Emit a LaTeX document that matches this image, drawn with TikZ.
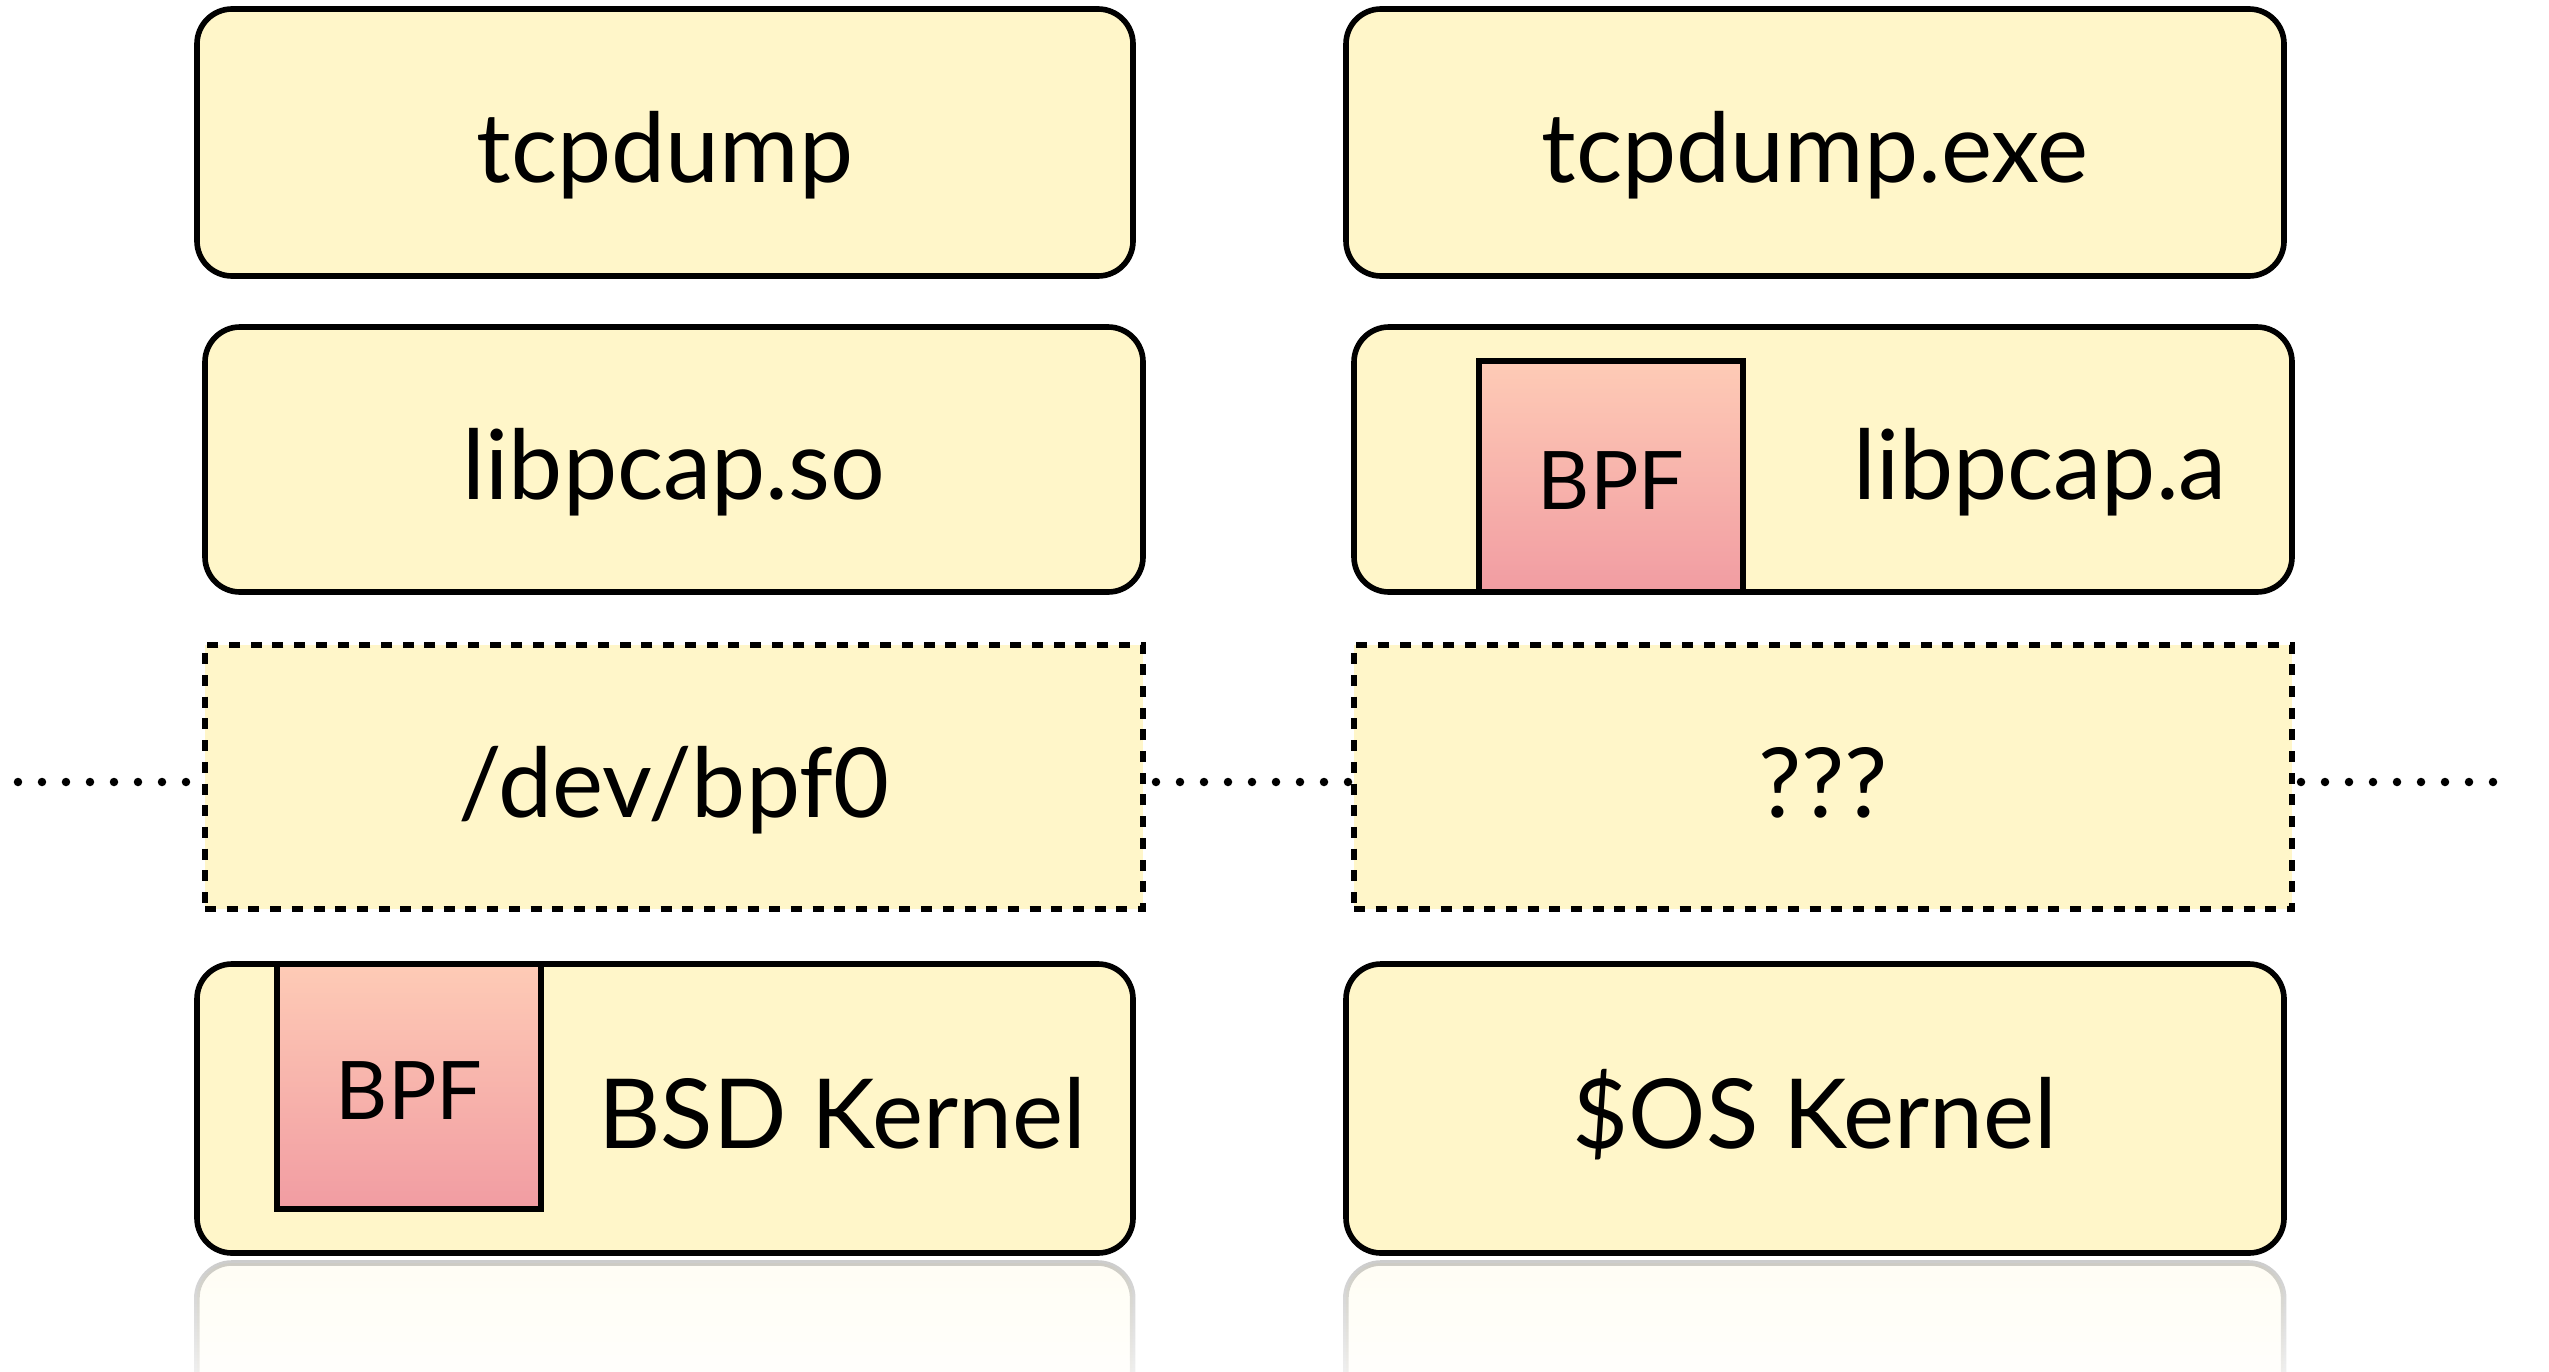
\documentclass[tikz,border=0pt]{standalone}
\usepackage{fontspec}
\setmainfont{Lato}
\usetikzlibrary{fadings}
\definecolor{boxfill}{RGB}{255,246,201}
\definecolor{bpftop}{RGB}{254,203,182}
\definecolor{bpfbot}{RGB}{241,156,162}
\tikzfading[name=reflfade, top color=transparent!80, bottom color=transparent!100]
\tikzset{
  layer/.style={draw, line width=1.6pt, rounded corners=3.5mm, fill=boxfill, inner sep=0pt},
  dlayer/.style={draw, line width=1.7pt, dash pattern=on 1.1mm off 1.07mm, fill=boxfill, inner sep=0pt},
  lbl/.style={font=\fontsize{27.5}{33}\selectfont, text height=8.0mm, text depth=0pt},
  bpfbox/.style={draw, line width=1.6pt, top color=bpftop, bottom color=bpfbot, inner sep=0pt,
    font=\fontsize{23}{28}\selectfont, text height=6.5mm, text depth=0pt},
  dots/.style={line width=0.85mm, line cap=round, dash pattern=on 0pt off 2.4mm},
  refl/.style={fill=boxfill, draw=black, line width=1.6pt, rounded corners=3.5mm, path fading=reflfade}
}
\begin{document}
\begin{tikzpicture}
\useasboundingbox (0,0) rectangle (25.49,-13.71);
% reflections
\path[refl] (1.97,-14.2) -- (1.97,-12.63) -- (11.33,-12.63) -- (11.33,-14.2);
\path[refl] (13.46,-14.2) -- (13.46,-12.63) -- (22.84,-12.63) -- (22.84,-14.2);
% left column
\node[layer, lbl, minimum width=9.36cm, minimum height=2.67cm] (B1) at (6.65,-1.425) {tcpdump};
\node[layer, lbl, minimum width=9.38cm, minimum height=2.65cm] (B2) at (6.74,-4.595) {libpcap.so};
\node[dlayer, lbl, minimum width=9.38cm, minimum height=2.64cm] (B3) at (6.74,-7.77) {/dev/bpf0};
\node[layer, minimum width=9.36cm, minimum height=2.89cm] (B4) at (6.65,-11.085) {};
\node[bpfbox, minimum width=2.64cm, minimum height=2.45cm] (BPF2) at (4.09,-10.865) {BPF};
\node[lbl] (B4lbl) at (8.42,-11.085) {BSD Kernel};
% right column
\node[layer, lbl, minimum width=9.38cm, minimum height=2.67cm] (R1) at (18.15,-1.425) {tcpdump.exe};
\node[layer, minimum width=9.38cm, minimum height=2.65cm] (R2) at (18.23,-4.595) {};
\node[bpfbox, minimum width=2.64cm, minimum height=2.31cm] (BPF1) at (16.11,-4.765) {BPF};
\node[lbl] (R2lbl) at (20.40,-4.595) {libpcap.a};
\node[dlayer, lbl, minimum width=9.38cm, minimum height=2.64cm] (R3) at (18.23,-7.77) {???};
\node[layer, lbl, minimum width=9.38cm, minimum height=2.89cm] (R4) at (18.15,-11.085) {\$OS Kernel};
% dotted boundary
\coordinate (L0) at (0.18,-7.82);
\coordinate (R5) at (25.16,-7.82);
\draw[dots] (L0) -- (B3.west |- L0);
\draw[dots, shorten <=1mm] (B3.east |- L0) -- (R3.west |- L0);
\draw[dots, shorten <=0.6mm] (R3.east |- L0) -- (R5);
\end{tikzpicture}
\end{document}
